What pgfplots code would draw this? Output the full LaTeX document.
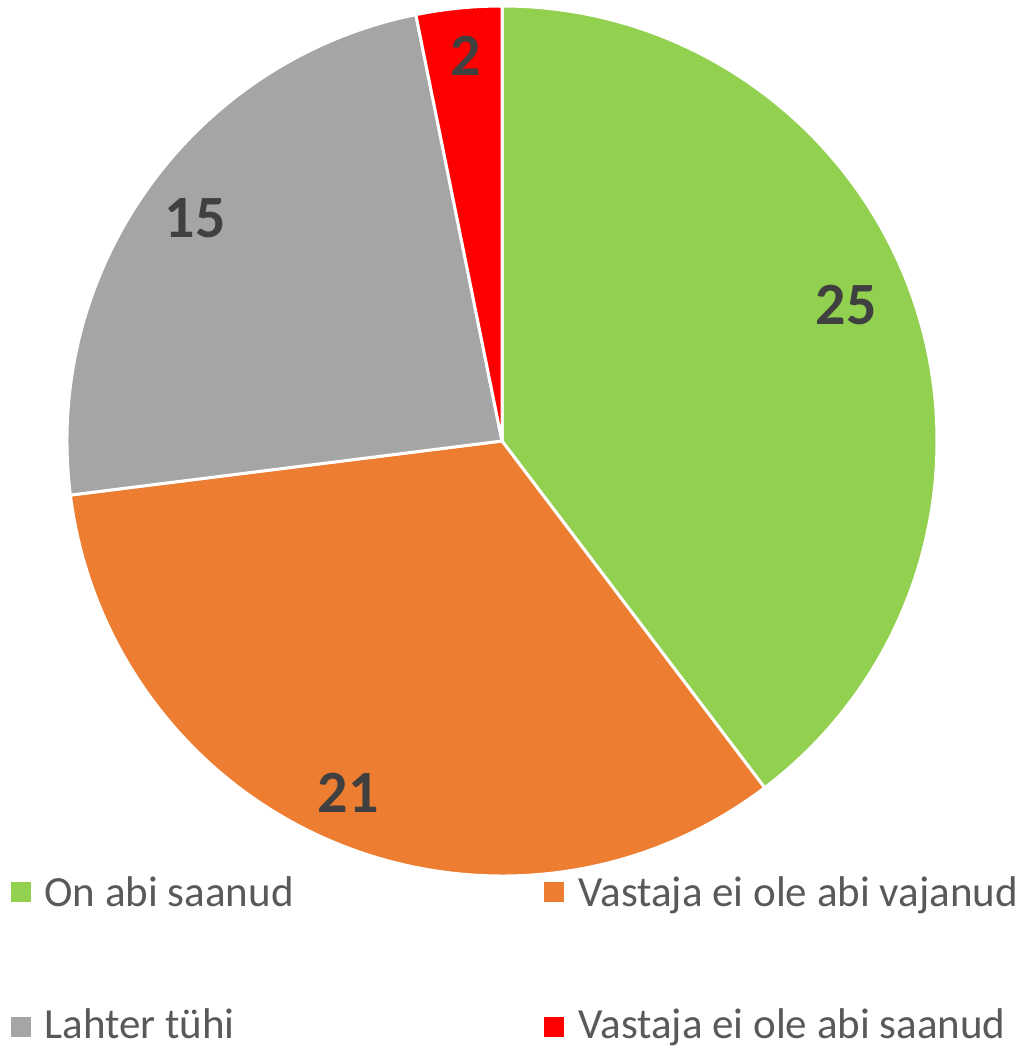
\documentclass[border=0pt]{standalone}
\usepackage{pgfplots}
\usepackage{pgfplotstable}
\pgfplotsset{compat=1.18}
\usepackage{fontspec}
\setmainfont{Carlito}
\definecolor{cGreen}{HTML}{92D050}
\definecolor{cOrange}{HTML}{ED7D31}
\definecolor{cGray}{HTML}{A5A5A5}
\definecolor{cRed}{HTML}{FF0000}
\definecolor{cLab}{HTML}{404040}
\definecolor{cLeg}{HTML}{595959}
\pgfplotstableread{
label value
OnAbi 25
VajanudPole 21
Tyhi 15
SaanudPole 2
}\piedata
\pgfplotstablegetelem{0}{value}\of\piedata \let\vA\pgfplotsretval
\pgfplotstablegetelem{1}{value}\of\piedata \let\vB\pgfplotsretval
\pgfplotstablegetelem{2}{value}\of\piedata \let\vC\pgfplotsretval
\pgfplotstablegetelem{3}{value}\of\piedata \let\vD\pgfplotsretval
\pgfmathsetmacro\tot{\vA+\vB+\vC+\vD}
\pgfmathsetmacro\aA{90}
\pgfmathsetmacro\aB{\aA-360*\vA/\tot}
\pgfmathsetmacro\aC{\aB-360*\vB/\tot}
\pgfmathsetmacro\aD{\aC-360*\vC/\tot}
\pgfmathsetmacro\aE{\aD-360*\vD/\tot}
\begin{document}
\begin{tikzpicture}
\begin{axis}[
  x=217.5pt, y=217.5pt,
  xmin=-1.15402, xmax=1.19080,
  ymin=-1.40460, ymax=1.01379,
  hide axis, clip=false,
]
\path (rel axis cs:0,0) rectangle (rel axis cs:1,1);
\filldraw[fill=cGreen, draw=white, line width=1.5pt] (axis cs:0,0) -- (axis cs:{cos(\aA)},{sin(\aA)}) arc[start angle=\aA, end angle=\aB, radius=217.5pt] -- cycle;
\filldraw[fill=cOrange, draw=white, line width=1.5pt] (axis cs:0,0) -- (axis cs:{cos(\aB)},{sin(\aB)}) arc[start angle=\aB, end angle=\aC, radius=217.5pt] -- cycle;
\filldraw[fill=cGray, draw=white, line width=1.5pt] (axis cs:0,0) -- (axis cs:{cos(\aC)},{sin(\aC)}) arc[start angle=\aC, end angle=\aD, radius=217.5pt] -- cycle;
\filldraw[fill=cRed, draw=white, line width=1.5pt] (axis cs:0,0) -- (axis cs:{cos(\aD)},{sin(\aD)}) arc[start angle=\aD, end angle=\aE, radius=217.5pt] -- cycle;
% data labels
\node[font=\fontsize{30}{32}\selectfont\bfseries, text=cLab, inner sep=0pt] at (axis cs:0.7914,0.3126) {\vA};
\node[font=\fontsize{30}{32}\selectfont\bfseries, text=cLab, inner sep=0pt] at (axis cs:-0.3540,-0.8092) {\vB};
\node[font=\fontsize{30}{32}\selectfont\bfseries, text=cLab, inner sep=0pt] at (axis cs:-0.7057,0.5115) {\vC};
\node[font=\fontsize{30}{32}\selectfont\bfseries, text=cLab, inner sep=0pt] at (axis cs:-0.0839,0.8851) {\vD};
% legend
\fill[cGreen] (axis cs:-1.1287,-1.0138) rectangle (axis cs:-1.0828,-1.0598);
\node[anchor=base west, inner sep=0pt, font=\fontsize{21.5}{23}\selectfont, text=cLeg] at (axis cs:-1.0529,-1.0690) {On abi saanud};
\fill[cOrange] (axis cs:0.0966,-1.0138) rectangle (axis cs:0.1425,-1.0598);
\node[anchor=base west, inner sep=0pt, font=\fontsize{21.5}{23}\selectfont, text=cLeg] at (axis cs:0.1747,-1.0690) {Vastaja ei ole abi vajanud};
\fill[cGray] (axis cs:-1.1287,-1.3241) rectangle (axis cs:-1.0828,-1.3701);
\node[anchor=base west, inner sep=0pt, font=\fontsize{21.5}{23}\selectfont, text=cLeg] at (axis cs:-1.0529,-1.3747) {Lahter tühi};
\fill[cRed] (axis cs:0.0966,-1.3241) rectangle (axis cs:0.1425,-1.3701);
\node[anchor=base west, inner sep=0pt, font=\fontsize{21.5}{23}\selectfont, text=cLeg] at (axis cs:0.1747,-1.3747) {Vastaja ei ole abi saanud};
\end{axis}
\end{tikzpicture}
\end{document}
